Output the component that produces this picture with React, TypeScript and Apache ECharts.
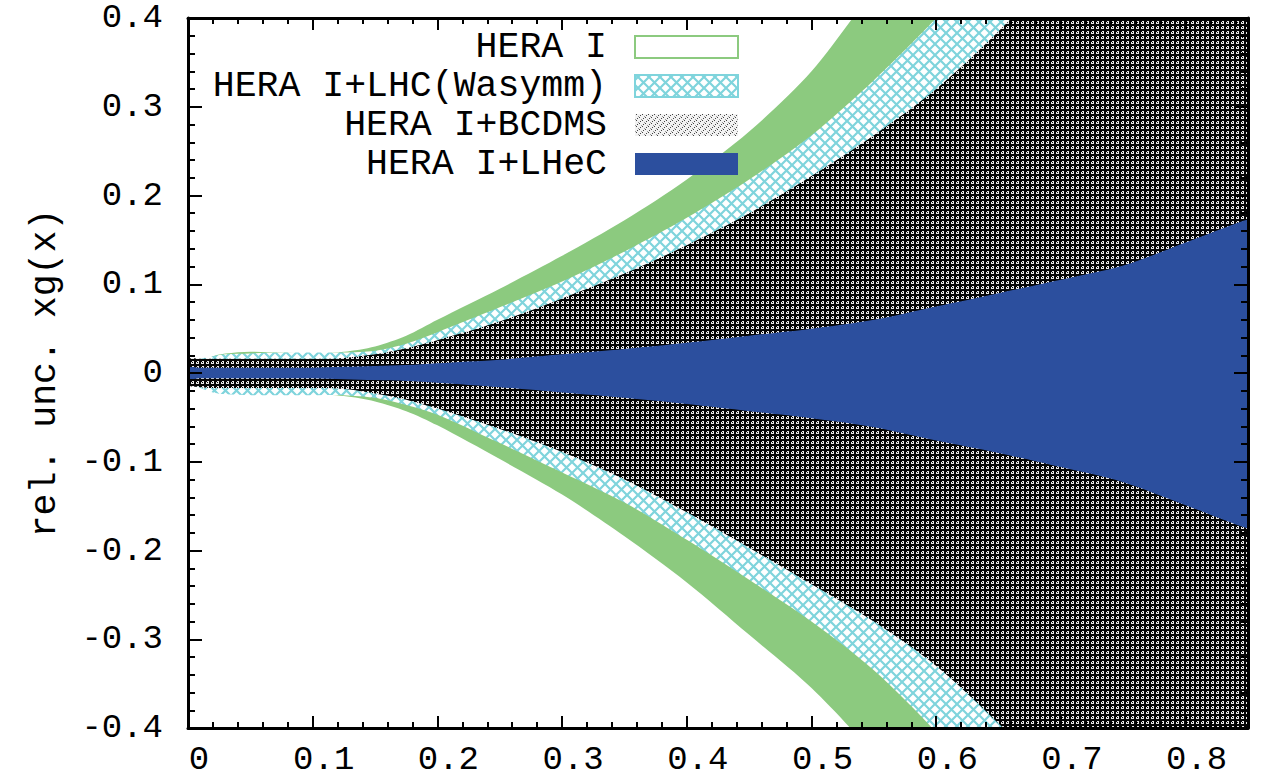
import React, { useEffect, useRef } from 'react';
import * as echarts from 'echarts';

// x positions of the band samples
const xValues = [0, 0.01, 0.02, 0.03, 0.05, 0.075, 0.1, 0.125, 0.15, 0.175, 0.2, 0.25, 0.3, 0.35, 0.4, 0.45, 0.5, 0.55, 0.6, 0.65, 0.7, 0.75, 0.8, 0.85];

// HERA I
const heraUp = [0.008, 0.014, 0.019, 0.022, 0.024, 0.023, 0.022, 0.024, 0.030, 0.042, 0.060, 0.095, 0.132, 0.172, 0.218, 0.272, 0.34, 0.43, 0.50, 0.60, 0.70, 0.82, 0.95, 1.10];
const heraLo = [-0.008, -0.013, -0.018, -0.021, -0.024, -0.024, -0.024, -0.026, -0.032, -0.043, -0.059, -0.097, -0.137, -0.184, -0.236, -0.295, -0.355, -0.43, -0.52, -0.62, -0.72, -0.84, -0.97, -1.12];

// HERA I+LHC(Wasymm)
const lhcUp = [0.010, 0.016, 0.019, 0.021, 0.022, 0.023, 0.023, 0.023, 0.025, 0.033, 0.046, 0.074, 0.103, 0.137, 0.175, 0.218, 0.268, 0.33, 0.40, 0.48, 0.57, 0.67, 0.78, 0.90];
const lhcLo = [-0.010, -0.017, -0.022, -0.024, -0.025, -0.025, -0.025, -0.025, -0.028, -0.036, -0.047, -0.079, -0.112, -0.146, -0.188, -0.233, -0.280, -0.335, -0.405, -0.49, -0.58, -0.68, -0.79, -0.91];

// HERA I+BCDMS
const bcdmsUp = [0.015, 0.016, 0.016, 0.016, 0.016, 0.016, 0.016, 0.017, 0.021, 0.028, 0.037, 0.058, 0.084, 0.112, 0.144, 0.180, 0.222, 0.268, 0.320, 0.385, 0.46, 0.55, 0.65, 0.76];
const bcdmsLo = [-0.013, -0.016, -0.017, -0.017, -0.017, -0.017, -0.017, -0.018, -0.023, -0.030, -0.040, -0.063, -0.089, -0.120, -0.157, -0.197, -0.238, -0.28, -0.33, -0.395, -0.47, -0.56, -0.66, -0.77];

// HERA I+LHeC
const lhecUp = [0.006, 0.006, 0.006, 0.006, 0.006, 0.006, 0.006, 0.007, 0.008, 0.009, 0.011, 0.015, 0.021, 0.027, 0.034, 0.042, 0.050, 0.060, 0.075, 0.090, 0.105, 0.121, 0.147, 0.173];
const lhecLo = [-0.006, -0.006, -0.006, -0.006, -0.006, -0.006, -0.006, -0.007, -0.008, -0.009, -0.011, -0.016, -0.022, -0.028, -0.035, -0.043, -0.051, -0.061, -0.076, -0.090, -0.106, -0.123, -0.149, -0.175];

const seriesNames = ['HERA I', 'HERA I+LHC(Wasymm)', 'HERA I+BCDMS', 'HERA I+LHeC'];
const yAxisTitle = 'rel. unc. xg(x)';

const FONT = '"Liberation Mono", "DejaVu Sans Mono", monospace';
const GREEN = '#8cca7f';
const CYAN = '#7fd4dc';
const BLUE = '#2c4f9e';

function makePattern(size: number, draw: (ctx: CanvasRenderingContext2D) => void) {
  const c = document.createElement('canvas');
  c.width = size;
  c.height = size;
  const ctx = c.getContext('2d')!;
  draw(ctx);
  return { image: c.toDataURL(), repeat: 'repeat', imageWidth: size, imageHeight: size } as any;
}

export default function App() {
  const ref = useRef<HTMLDivElement>(null);

  useEffect(() => {
    const chart = echarts.init(ref.current!, null, { renderer: 'svg' });

    const hatch = makePattern(11, (ctx) => {
      ctx.fillStyle = '#ffffff';
      ctx.fillRect(0, 0, 11, 11);
      ctx.strokeStyle = CYAN;
      ctx.lineWidth = 2.2;
      ctx.beginPath();
      ctx.moveTo(-2, -2); ctx.lineTo(13, 13);
      ctx.moveTo(-2, 13); ctx.lineTo(13, -2);
      ctx.stroke();
    });
    const dots = makePattern(5, (ctx) => {
      ctx.fillStyle = '#050505';
      ctx.fillRect(0, 0, 5, 5);
      ctx.fillStyle = '#e8e8e8';
      ctx.fillRect(1, 1, 3, 3);
      ctx.fillStyle = '#050505';
      ctx.fillRect(2, 2, 1, 1);
      ctx.fillRect(1, 1, 1, 1);
    });
    const dotsLight = makePattern(6, (ctx) => {
      ctx.fillStyle = '#f2f2f2';
      ctx.fillRect(0, 0, 6, 6);
      ctx.fillStyle = '#444';
      ctx.fillRect(0, 0, 1, 1);
      ctx.fillRect(3, 3, 1, 1);
      ctx.fillRect(1, 4, 1, 1);
      ctx.fillRect(4, 1, 1, 1);
      ctx.fillStyle = '#999';
      ctx.fillRect(2, 2, 1, 1);
      ctx.fillRect(5, 5, 1, 1);
    });

    const band = (name: string, up: number[], lo: number[], fill: any) => ({
      type: 'custom',
      name,
      coordinateSystem: 'cartesian2d',
      xAxisIndex: 0,
      yAxisIndex: 0,
      clip: true,
      silent: true,
      data: xValues.map((x, i) => [x, up[i], lo[i]]),
      encode: { x: 0, y: [1, 2] },
      renderItem: (params: any, api: any) => {
        if (params.dataIndexInside !== 0) return null;
        const n = params.dataInsideLength;
        const pts: number[][] = [];
        for (let i = 0; i < n; i++) pts.push(api.coord([api.value(0, i), api.value(1, i)]));
        for (let i = n - 1; i >= 0; i--) pts.push(api.coord([api.value(0, i), api.value(2, i)]));
        let x0 = Infinity, y0 = Infinity, x1 = -Infinity, y1 = -Infinity;
        pts.forEach((p) => {
          x0 = Math.min(x0, p[0]); y0 = Math.min(y0, p[1]);
          x1 = Math.max(x1, p[0]); y1 = Math.max(y1, p[1]);
        });
        return {
          type: 'polygon',
          shape: { points: pts, smooth: 0.3, smoothConstraint: [[x0, y0], [x1, y1]] },
          style: { fill, stroke: null },
        };
      },
    });

    const tickLine = { color: '#000', width: 2 };
    const axisLine = { show: true, onZero: false, lineStyle: { color: '#000', width: 3 } };
    const fmt = (v: number) => {
      const r = Math.round(v * 10) / 10;
      return r === 0 ? '0' : r.toFixed(1);
    };

    const rows = [47, 86, 125, 164];
    const swatchFills = [
      { fill: '#fff', stroke: GREEN, lineWidth: 2 },
      { fill: hatch, stroke: CYAN, lineWidth: 2 },
      { fill: dotsLight, stroke: null, lineWidth: 0 },
      { fill: BLUE, stroke: null, lineWidth: 0 },
    ];
    const legendGraphics: any[] = [];
    seriesNames.forEach((name, i) => {
      legendGraphics.push({
        type: 'text',
        x: 607,
        y: rows[i],
        z: 100,
        style: { text: name, font: `36.5px ${FONT}`, fill: '#000', textAlign: 'right', textVerticalAlign: 'middle' },
      });
      legendGraphics.push({
        type: 'rect',
        z: 100,
        shape: { x: 635, y: rows[i] - 11, width: 103, height: 22 },
        style: swatchFills[i],
      });
    });

    const option: any = {
      animation: false,
      backgroundColor: '#fff',
      grid: { left: 188, right: 17, top: 18, bottom: 55, containLabel: false },
      xAxis: [
        {
          type: 'value', min: 0, max: 0.85, interval: 0.1, position: 'bottom', z: 10,
          axisLine,
          axisTick: { inside: true, length: 12, lineStyle: tickLine },
          minorTick: { show: true, splitNumber: 5, length: 6, lineStyle: tickLine },
          splitLine: { show: false },
          axisLabel: {
            fontFamily: FONT, fontSize: 34, color: '#000', margin: 15, padding: [0, 0, 0, 22],
            showMaxLabel: false,
            formatter: (v: number) => (v > 0.81 ? '' : fmt(v)),
          },
        },
        {
          type: 'value', min: 0, max: 0.85, interval: 0.1, position: 'top', z: 10,
          axisLine,
          axisTick: { inside: true, length: 12, lineStyle: tickLine },
          minorTick: { show: true, splitNumber: 5, length: 6, lineStyle: tickLine },
          splitLine: { show: false },
          axisLabel: { show: false },
        },
      ],
      yAxis: [
        {
          type: 'value', min: -0.4, max: 0.4, interval: 0.1, position: 'left', z: 10,
          name: yAxisTitle, nameLocation: 'middle', nameGap: 124,
          nameTextStyle: { fontFamily: FONT, fontSize: 36.5, color: '#000' },
          axisLine,
          axisTick: { inside: true, length: 14, lineStyle: tickLine },
          minorTick: { show: true, splitNumber: 5, length: 7, lineStyle: tickLine },
          splitLine: { show: false },
          axisLabel: { fontFamily: FONT, fontSize: 34, color: '#000', margin: 25, formatter: fmt },
        },
        {
          type: 'value', min: -0.4, max: 0.4, interval: 0.1, position: 'right', z: 10,
          axisLine,
          axisTick: { inside: true, length: 14, lineStyle: tickLine },
          minorTick: { show: true, splitNumber: 5, length: 7, lineStyle: tickLine },
          splitLine: { show: false },
          axisLabel: { show: false },
        },
      ],
      series: [
        band(seriesNames[0], heraUp, heraLo, GREEN),
        band(seriesNames[1], lhcUp, lhcLo, hatch),
        band(seriesNames[2], bcdmsUp, bcdmsLo, dots),
        band(seriesNames[3], lhecUp, lhecLo, BLUE),
      ],
      graphic: legendGraphics,
    };

    chart.setOption(option);
    return () => chart.dispose();
  }, []);

  return (
    <div
      ref={ref}
      style={{ position: 'fixed', left: 0, top: 0, width: 1265, height: 783, background: '#fff' }}
    />
  );
}
